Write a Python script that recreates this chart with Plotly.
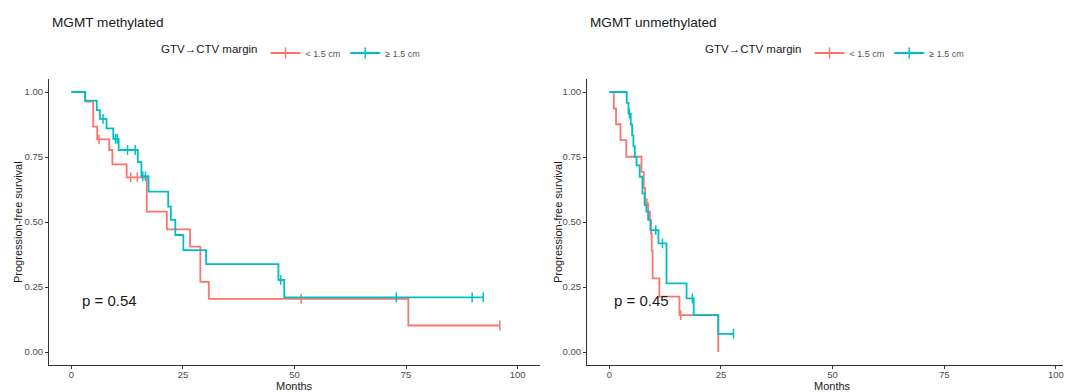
import plotly.graph_objects as go

W, H = 1068, 392
RED = "#F8766D"
TEAL = "#00BFC4"
FONT = "Liberation Sans, Arial, Helvetica, sans-serif"

# ---------------- data: MGMT methylated ----------------
meth_lt_time = [0, 3.1, 4.9, 5.8, 8.5, 9.2, 12.4, 16.9, 21.4, 26.6, 28.9, 30.8, 75.5]
meth_lt_surv = [1.0, 0.963, 0.867, 0.818, 0.777, 0.722, 0.672, 0.54, 0.472, 0.405, 0.27, 0.204, 0.102]
meth_lt_end = 96.0
meth_lt_cens = [6.2, 13.3, 14.8, 51.5, 96.0]

meth_ge_time = [0, 3.1, 5.7, 6.4, 7.9, 9.4, 10.6, 14.9, 15.7, 17.3, 21.7, 22.3, 23.3, 25.1, 30.2, 46.4, 47.7]
meth_ge_surv = [1.0, 0.967, 0.93, 0.897, 0.86, 0.82, 0.777, 0.73, 0.676, 0.617, 0.559, 0.508, 0.45, 0.392, 0.338, 0.277, 0.21]
meth_ge_end = 92.3
meth_ge_cens = [7.1, 9.9, 10.3, 12.6, 14.3, 16.0, 16.6, 46.9, 72.8, 89.8, 92.3]
meth_pval = "p = 0.54"

# ---------------- data: MGMT unmethylated ----------------
unmeth_lt_time = [0, 1.0, 1.5, 2.5, 3.8, 7.2, 7.7, 8.0, 8.7, 9.1, 9.3, 9.5, 9.7, 11.2, 15.7, 24.4]
unmeth_lt_surv = [1.0, 0.937, 0.876, 0.815, 0.751, 0.693, 0.63, 0.572, 0.54, 0.508, 0.456, 0.39, 0.283, 0.213, 0.142, 0.0]
unmeth_lt_end = 24.4
unmeth_lt_cens = [8.4, 16.0]

unmeth_ge_time = [0, 3.9, 4.3, 4.8, 5.1, 5.4, 5.7, 6.1, 6.8, 7.4, 7.9, 8.3, 8.7, 9.2, 11.0, 12.8, 17.3, 18.9, 24.4]
unmeth_ge_surv = [1.0, 0.958, 0.917, 0.875, 0.833, 0.792, 0.75, 0.718, 0.674, 0.61, 0.565, 0.54, 0.508, 0.469, 0.418, 0.264, 0.206, 0.142, 0.07]
unmeth_ge_end = 27.8
unmeth_ge_cens = [4.5, 10.4, 11.9, 18.6, 27.8]
unmeth_pval = "p = 0.45"

group_labels = ["< 1.5 cm", "≥ 1.5 cm"]
legend_title = "GTV→CTV margin"
panel_titles = ["MGMT methylated", "MGMT unmethylated"]
x_ticks = [0, 25, 50, 75, 100]
y_ticks = [0, 0.25, 0.5, 0.75, 1.0]
y_ticktext = ["0.00", "0.25", "0.50", "0.75", "1.00"]
x_title = "Months"
y_title = "Progression-free survival"


def xp(px):
    return px / W


def yp(py):
    return 1 - py / H


def step_xy(times, survs, end):
    return list(times) + [end], list(survs) + [survs[-1]]


def surv_at(times, survs, t):
    s = survs[0]
    for tt, ss in zip(times, survs):
        if tt <= t:
            s = ss
    return s


fig = go.Figure()

panels = [
    (1, [(meth_lt_time, meth_lt_surv, meth_lt_end, meth_lt_cens),
         (meth_ge_time, meth_ge_surv, meth_ge_end, meth_ge_cens)], meth_pval, "legend"),
    (2, [(unmeth_lt_time, unmeth_lt_surv, unmeth_lt_end, unmeth_lt_cens),
         (unmeth_ge_time, unmeth_ge_surv, unmeth_ge_end, unmeth_ge_cens)], unmeth_pval, "legend2"),
]
colors = [RED, TEAL]

for idx, groups, pval, leg in panels:
    xa = "x" if idx == 1 else "x2"
    ya = "y" if idx == 1 else "y2"
    for (t, s, end, cens), col, lab in zip(groups, colors, group_labels):
        xs, ys = step_xy(t, s, end)
        fig.add_trace(go.Scatter(x=xs, y=ys, mode="lines", line=dict(color=col, width=1.8, shape="hv"),
                                 xaxis=xa, yaxis=ya, showlegend=False, hoverinfo="skip"))
        fig.add_trace(go.Scatter(x=cens, y=[surv_at(t, s, c) for c in cens], mode="markers",
                                 marker=dict(symbol="line-ns", size=7, line=dict(color=col, width=1.5)),
                                 xaxis=xa, yaxis=ya, showlegend=False, hoverinfo="skip"))
        fig.add_trace(go.Scatter(x=[None], y=[None], mode="lines+markers", name=lab,
                                 line=dict(color=col, width=1.8),
                                 marker=dict(symbol="line-ns", size=8, line=dict(color=col, width=1.5)),
                                 xaxis=xa, yaxis=ya, legend=leg))
    tmax = max(g[2] for g in groups)
    fig.add_annotation(x=tmax / 50, y=0.2, xref=xa, yref=ya, text=pval, showarrow=False,
                       xanchor="left", yanchor="middle", font=dict(family=FONT, size=15, color="#1a1a1a"))

axis_common = dict(showline=True, linecolor="#333333", linewidth=1, ticks="outside", ticklen=3,
                   tickcolor="#333333", tickwidth=1, showgrid=False, zeroline=False,
                   tickfont=dict(family=FONT, size=9.5, color="#4D4D4D"))
ydom = [yp(365), yp(79)]

leg_common = dict(orientation="h", y=yp(53), xanchor="center", yanchor="middle",
                  title=dict(text=legend_title, font=dict(family=FONT, size=11.5, color="#1a1a1a")),
                  font=dict(family=FONT, size=9, color="#555555"), bgcolor="rgba(0,0,0,0)")

fig.update_layout(
    width=W, height=H, margin=dict(l=0, r=0, t=0, b=0),
    paper_bgcolor="white", plot_bgcolor="white",
    xaxis=dict(domain=[xp(49), xp(540)], range=[-5, 105], tickvals=x_ticks, anchor="y",
               ticklabelstandoff=-2, **axis_common),
    yaxis=dict(domain=ydom, range=[-0.05, 1.05], tickvals=y_ticks, ticktext=y_ticktext, anchor="x", **axis_common),
    xaxis2=dict(domain=[xp(587), xp(1063)], range=[-5, 101.6], tickvals=x_ticks, anchor="y2",
                ticklabelstandoff=-2, **axis_common),
    yaxis2=dict(domain=ydom, range=[-0.05, 1.05], tickvals=y_ticks, ticktext=y_ticktext, anchor="x2", **axis_common),
    legend=dict(x=xp(292), **leg_common),
    legend2=dict(x=xp(836), **leg_common),
)

# panel titles and axis titles
for px, title in zip([50, 588], panel_titles):
    fig.add_annotation(x=xp(px), y=yp(23), xref="paper", yref="paper", text=title, showarrow=False,
                       xanchor="left", yanchor="middle", font=dict(family=FONT, size=13.6, color="#1a1a1a"))
for px in [18, 558]:
    fig.add_annotation(x=xp(px), y=yp(222), xref="paper", yref="paper", text=y_title, showarrow=False,
                       textangle=-90, xanchor="center", yanchor="middle",
                       font=dict(family=FONT, size=11, color="#1a1a1a"))
for px in [294, 832]:
    fig.add_annotation(x=xp(px), y=yp(386), xref="paper", yref="paper", text=x_title, showarrow=False,
                       xanchor="center", yanchor="middle", font=dict(family=FONT, size=11, color="#1a1a1a"))

fig.write_html("out.html", config={"displayModeBar": False},
               post_script="document.body.style.margin='0';document.body.style.overflow='hidden';")
